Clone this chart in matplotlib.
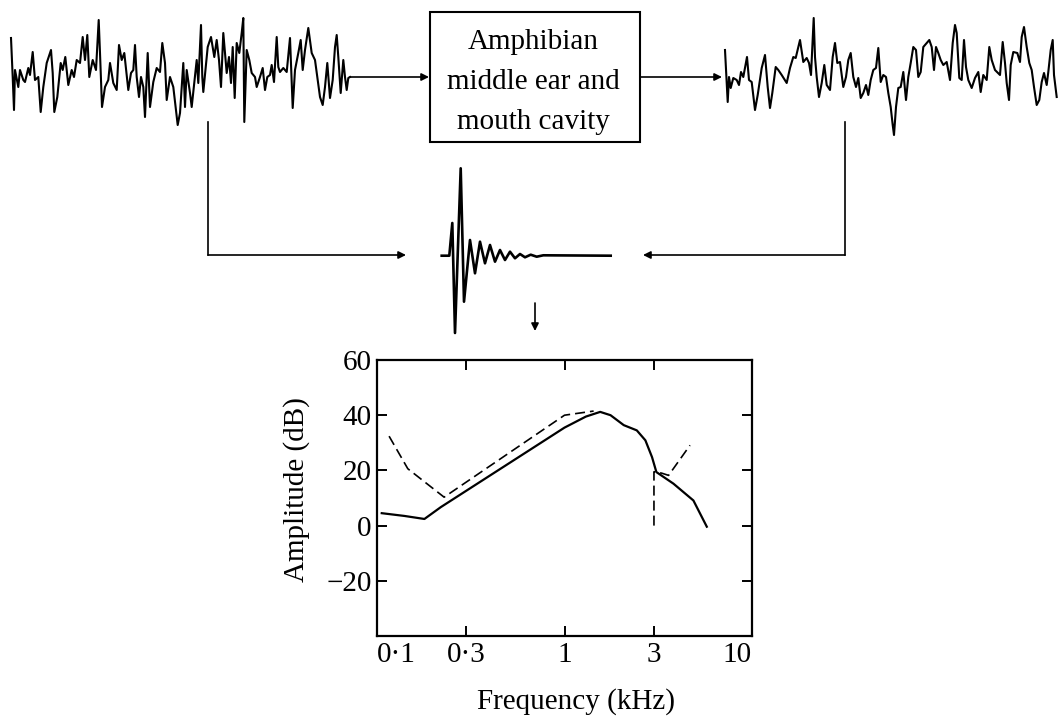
import matplotlib

matplotlib.use("Agg")
import matplotlib.pyplot as plt
from matplotlib.patches import Rectangle
from matplotlib.ticker import NullLocator

plt.rcParams["font.family"] = ["Liberation Serif", "DejaVu Serif"]

# frequency response (kHz, dB)
solid_freq = [0.106, 0.14, 0.179, 0.219, 1.0, 1.3, 1.55, 1.76, 2.07, 2.43, 2.7, 2.93, 3.09, 3.81, 4.87, 5.74]
solid_db = [4.5, 3.5, 2.4, 6.7, 35.5, 39.5, 41.2, 40.0, 36.4, 34.5, 30.9, 24.8, 19.4, 15.2, 9.1, -0.4]

dashed_freq = [0.116, 0.146, 0.228, 1.0, 1.43, float("nan"), 3.0, 3.0, 3.3, 3.59, 4.67]
dashed_db = [32.4, 20.6, 10.3, 40.0, 41.5, float("nan"), 0.0, 19.5, 19.0, 18.2, 29.1]

x_ticks = [0.1, 0.3, 1, 3, 10]
x_tick_labels = ["0·1", "0·3", "1", "3", "10"]
y_ticks = [60, 40, 20, 0, -20]
y_tick_labels = ["60", "40", "20", "0", "\u221220"]

box_lines = ["Amphibian", "middle ear and", "mouth cavity"]

# noise traces (image pixel coords)
left_x = [11, 12.7, 14, 15, 18.3, 20, 23.3, 25, 28.3, 30, 32.7, 35, 38.3, 40.7, 43.3, 46.7, 51, 52.7, 54.3, 57.3,
          60.7, 62.7, 65.3, 68.3, 71.7, 74, 76.7, 80, 82.7, 85, 87.3, 89.3, 92.7, 96, 98.7, 100, 102, 105, 108.3,
          110, 113.3, 116.7, 119, 121.7, 124.3, 128.3, 131, 133.3, 135, 136.7, 139, 141, 143.3, 145, 147.7, 150,
          153.3, 156.7, 160, 162.3, 165, 166.7, 170, 173.3, 176, 177.7, 180, 183.3, 185, 186.7, 190, 191.7, 196.7,
          198.3, 201, 202.3, 203.3, 207.7, 211, 214.3, 216.7, 219, 221, 223.3, 226.7, 229, 231, 232.7, 234.7,
          236.7, 239.3, 241.7, 243.3, 244.3, 246.7, 249.3, 251.7, 255, 256.7, 260, 262.7, 265, 267.3, 270, 271.7,
          274, 276.7, 278.3, 280, 283.3, 286.7, 290, 292.7, 295, 298.3, 300.7, 302.7, 305, 308.3, 311.7, 315,
          317.3, 320, 322.7, 325, 327.3, 330, 332.7, 335, 336.7, 338.3, 340.7, 343.3, 345, 346.7, 348.3, 350]
left_y = [38, 77, 110, 70, 87, 70, 80, 82, 68, 75, 52, 80, 77, 112, 87, 63, 50, 73, 112, 97,
          63, 70, 57, 85, 70, 77, 60, 63, 37, 60, 35, 77, 60, 70, 20, 53, 107, 87, 80,
          63, 83, 90, 45, 60, 53, 90, 73, 70, 45, 77, 97, 77, 87, 117, 53, 107,
          82, 68, 72, 43, 63, 100, 77, 87, 110, 125, 113, 63, 107, 70, 93, 107, 60,
          83, 25, 77, 92, 47, 37, 57, 40, 60, 87, 33, 73, 57, 83, 47, 98,
          43, 53, 33, 18, 122, 50, 60, 73, 77, 87, 77, 68, 90, 77, 75, 65,
          82, 37, 67, 72, 68, 72, 38, 108, 70, 53, 40, 70, 50, 28, 53, 60,
          77, 97, 105, 87, 63, 98, 80, 47, 35, 57, 93, 60, 77, 90, 78, 77]

right_x = [725, 727.7, 729, 730.7, 733.3, 736.7, 739, 741, 743.3, 745, 747, 749, 751.7, 755, 757.7, 761.7, 765,
           767.7, 770, 772.3, 775.7, 778.3, 781.7, 786.7, 790, 793.3, 795.7, 800, 803.3, 806.7, 809, 811, 813.7,
           815, 816.7, 819, 821.7, 824.3, 826.7, 830, 832.7, 835, 837.3, 840, 843.3, 846, 848.3, 850.7, 853.3,
           856, 858.3, 860.7, 863.3, 866, 868.3, 870.7, 873.3, 876, 878.3, 880.7, 883.3, 886, 888.3, 890.7,
           892.7, 894, 896, 898.3, 900.7, 903.3, 906, 908.3, 910.7, 913.3, 916, 918.3, 920.7, 923.3, 926.7,
           929.3, 931.7, 934, 936, 938.3, 940.7, 943.3, 946.7, 950, 952.7, 955, 956.7, 959.3, 961.7, 964, 966,
           968.3, 971.7, 975, 978.3, 980.7, 983.3, 986.7, 989.3, 991.7, 995, 1000, 1002.7, 1005, 1006.7, 1009,
           1010.7, 1013.3, 1017.3, 1020, 1021.7, 1024, 1026.7, 1029.3, 1031.7, 1034, 1036.7, 1039.3, 1041.7,
           1044, 1046.7, 1048.3, 1050.7, 1052.7, 1054, 1056.7]
right_y = [50, 102, 77, 88, 78, 80, 85, 72, 77, 68, 57, 80, 82, 110, 95, 68, 55,
           87, 108, 93, 67, 70, 75, 83, 68, 57, 58, 40, 62, 58, 63, 75, 18,
           57, 77, 97, 83, 65, 85, 90, 57, 43, 63, 62, 87, 77, 60, 53, 77,
           87, 78, 98, 93, 85, 95, 80, 70, 68, 48, 82, 75, 77, 93, 107,
           125, 135, 107, 88, 87, 72, 100, 77, 63, 47, 50, 77, 72, 47, 43,
           40, 47, 70, 47, 53, 60, 65, 62, 80, 43, 25, 33, 78, 80, 40, 67,
           80, 88, 78, 72, 92, 75, 80, 47, 60, 70, 75, 42, 63, 83, 100,
           65, 52, 53, 62, 37, 27, 47, 63, 70, 87, 105, 100, 82,
           73, 85, 72, 50, 40, 75, 97]

# impulse response (image pixel coords)
impulse_x = [441.7, 449.3, 452.3, 455, 460.7, 464, 470, 475, 480, 485, 490, 495, 500, 505, 510, 515, 520, 525,
             530.7, 536.7, 543.3, 610.7]
impulse_y = [255.7, 255.7, 223, 333, 168.3, 301.7, 240, 273.3, 241.7, 263.3, 245, 261.7, 250, 260, 251.7, 258.3,
             254, 257.3, 254.7, 256.7, 255.3, 255.7]


def arrow(ax, start, tip):
    ax.annotate("", xy=tip, xytext=start,
                arrowprops=dict(arrowstyle="-|>", lw=1.2, color="k", mutation_scale=11,
                                shrinkA=0, shrinkB=0))


fig = plt.figure(figsize=(10.58, 7.18), dpi=100)

# diagram layer in pixel coordinates
dg = fig.add_axes([0, 0, 1, 1])
dg.set_xlim(0, 1058)
dg.set_ylim(718, 0)
dg.axis("off")

dg.plot(left_x, left_y, color="k", lw=1.5)
dg.plot(right_x, right_y, color="k", lw=1.5)
dg.plot(impulse_x, impulse_y, color="k", lw=1.9)

dg.add_patch(Rectangle((430, 12), 210, 130, fill=False, lw=1.5, ec="k"))
for i, line in enumerate(box_lines):
    dg.text(533, 42 + 40 * i, line, ha="center", va="center", fontsize=21)

arrow(dg, (350, 77), (429, 77))
arrow(dg, (640, 77), (722, 77))
dg.plot([208, 208], [122, 255], color="k", lw=1.2)
arrow(dg, (208, 255), (406, 255))
dg.plot([845, 845], [122, 255], color="k", lw=1.2)
arrow(dg, (845, 255), (643, 255))
arrow(dg, (535, 303), (535, 331))

# frequency response panel
ax = fig.add_axes([377 / 1058, 82 / 718, 375 / 1058, 276 / 718])
ax.plot(solid_freq, solid_db, color="k", lw=1.6)
ax.plot(dashed_freq, dashed_db, color="k", lw=1.2, ls=(0, (6, 3)))
ax.set_xscale("log")
ax.set_xlim(0.1, 10)
ax.set_ylim(-40, 60)
ax.set_xticks(x_ticks)
ax.set_xticklabels(x_tick_labels)
ax.xaxis.set_minor_locator(NullLocator())
ax.set_yticks(y_ticks)
ax.set_yticklabels(y_tick_labels)
ax.tick_params(direction="in", top=True, right=True, length=7, width=1.4, labelsize=21, pad=4)
for s in ax.spines.values():
    s.set_linewidth(1.6)
labels = ax.get_xticklabels()
labels[0].set_ha("left")
labels[-1].set_ha("right")
ax.set_xlabel("Frequency (kHz)", fontsize=21)
ax.xaxis.set_label_coords(0.53, -0.19)
ax.set_ylabel("Amplitude (dB)", fontsize=21)
ax.yaxis.set_label_coords(-0.18, 0.53)

fig.savefig("out.png", dpi=100)
